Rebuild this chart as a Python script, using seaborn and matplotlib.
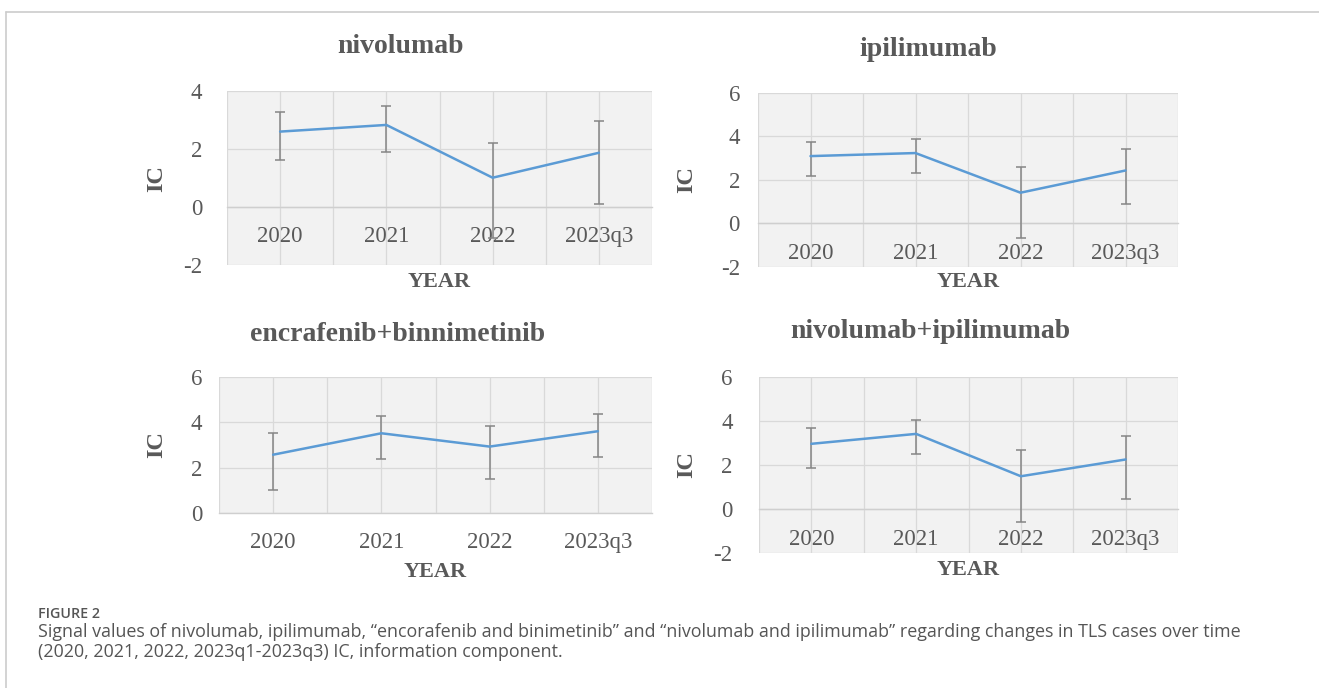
import numpy as np
import pandas as pd
import matplotlib
matplotlib.use("Agg")
import matplotlib.pyplot as plt
from matplotlib.lines import Line2D
from matplotlib.ticker import MultipleLocator, FixedLocator
import seaborn as sns

# ---------------- data ----------------
years = ["2020", "2021", "2022", "2023q3"]

titles = ["nivolumab", "ipilimumab", "encrafenib+binnimetinib", "nivolumab+ipilimumab"]

nivo_ic = [2.60, 2.83, 1.01, 1.87]
nivo_lo = [1.61, 1.91, -1.07, 0.10]
nivo_hi = [3.27, 3.48, 2.20, 2.97]

ipi_ic = [3.09, 3.23, 1.41, 2.43]
ipi_lo = [2.16, 2.31, -0.66, 0.87]
ipi_hi = [3.72, 3.87, 2.61, 3.42]

encbin_ic = [2.57, 3.52, 2.93, 3.61]
encbin_lo = [1.00, 2.37, 1.49, 2.47]
encbin_hi = [3.55, 4.27, 3.83, 4.36]

nivoipi_ic = [2.96, 3.41, 1.49, 2.25]
nivoipi_lo = [1.87, 2.48, -0.59, 0.48]
nivoipi_hi = [3.67, 4.06, 2.70, 3.32]

ylims = [(-2, 4), (-2, 6), (0, 6), (-2, 6)]

series = [
    (nivo_ic, nivo_lo, nivo_hi),
    (ipi_ic, ipi_lo, ipi_hi),
    (encbin_ic, encbin_lo, encbin_hi),
    (nivoipi_ic, nivoipi_lo, nivoipi_hi),
]

caption_head = "FIGURE 2"
caption_l1a = ("Signal values of nivolumab, ipilimumab, \u201cencorafenib and binimetinib\u201d and "
               "\u201cnivolumab and ipilimumab\u201d ")
caption_l1b = "regarding changes in TLS cases over time"
caption_l2 = "(2020, 2021, 2022, 2023q1-2023q3) IC, information component."

# ---------------- layout ----------------
W, H = 1319, 688
sns.set_theme(style="white")
plt.rcParams["font.family"] = ["Liberation Serif", "DejaVu Serif"]
plt.rcParams["axes.unicode_minus"] = False

fig = plt.figure(figsize=(W / 100, H / 100), dpi=100)
fig.patch.set_facecolor("white")

# axes boxes in pixels: (left, top, right, bottom)
boxes = [
    (227, 91, 652, 265),
    (758, 92.7, 1178, 267),
    (219, 377.3, 652, 512.7),
    (759, 376.7, 1178, 553.3),
]
title_pos = [(400, 55), (928, 58), (398, 343), (930, 340)]
ic_x = [167, 697, 167, 697]
year_y = [282, 282, 572, 570]
ytick_pad = [18, 13, 12, 19]

TXT = "#595959"
BLUE = "#5B9BD5"
ERR = "#858585"
GRID = "#d9d9d9"
BG = "#f2f2f2"

for i, (box, title, (ic, lo, hi), yl) in enumerate(zip(boxes, titles, series, ylims)):
    l, t, r, b = box
    ax = fig.add_axes([l / W, 1 - b / H, (r - l) / W, (b - t) / H])
    ax.set_facecolor(BG)
    df = pd.DataFrame({"year": years, "ic": ic, "lo": lo, "hi": hi})
    df["pos"] = np.arange(len(df))
    ic_a = df["ic"].to_numpy()
    ax.errorbar(df["pos"], ic_a, yerr=[ic_a - df["lo"].to_numpy(), df["hi"].to_numpy() - ic_a],
                fmt="none", ecolor=ERR, elinewidth=1.1, capsize=3.5, capthick=1.1, zorder=3)
    sns.lineplot(data=df, x="pos", y="ic", ax=ax, color=BLUE, linewidth=1.8, zorder=4,
                 legend=False)
    ax.set_xlim(-0.5, len(years) - 0.5)
    ax.set_ylim(*yl)
    ax.yaxis.set_major_locator(MultipleLocator(2))
    ax.set_xticks(df["pos"])
    ax.set_xticklabels(years)
    ax.xaxis.set_minor_locator(FixedLocator(np.arange(-0.5, len(years), 1.0)))
    ax.grid(True, which="both", axis="x", color=GRID, linewidth=0.9)
    ax.grid(True, which="major", axis="y", color=GRID, linewidth=0.9)
    ax.set_axisbelow(True)
    for s in ["top", "right", "left"]:
        ax.spines[s].set_visible(False)
    ax.spines["bottom"].set_position(("data", 0))
    ax.spines["bottom"].set_color("#cfcfcf")
    ax.spines["bottom"].set_linewidth(1.0)
    ax.tick_params(axis="x", which="both", length=0, pad=14, labelsize=16.5, labelcolor=TXT)
    ax.tick_params(axis="y", length=0, pad=ytick_pad[i], labelsize=16.5, labelcolor=TXT)

    ax.set_ylabel("IC", fontsize=17.5, fontweight="bold", color=TXT)
    ax.yaxis.set_label_coords((ic_x[i] - l) / (r - l), 0.5)
    ax.set_xlabel("YEAR", fontsize=16, fontweight="bold", color=TXT)
    ax.xaxis.label.set_va("center")
    ax.xaxis.set_label_coords(0.5, -(year_y[i] - b) / (b - t))

    tx, ty = title_pos[i]
    ax.set_title(title, fontsize=20, fontweight="bold", color=TXT,
                 x=(tx - l) / (r - l), y=1 + (t - ty) / (b - t), va="center")

# ---------------- frame and caption ----------------
fig.add_artist(Line2D([6 / W, 1], [1 - 12 / H, 1 - 12 / H], color="#cccccc", linewidth=1.2))
fig.add_artist(Line2D([6 / W, 6 / W], [0, 1 - 12 / H], color="#cccccc", linewidth=1.2))

cap_font = ["Open Sans", "DejaVu Sans"]
CAP = "#555555"
fig.canvas.draw()
renderer = fig.canvas.get_renderer()

# fit caption size so "regarding" starts where it does in the reference
probe = fig.text(0, 0, caption_l1a, fontsize=10, family=cap_font)
pw = probe.get_window_extent(renderer).width
probe.remove()
cap_size = 10 * (907 - 38) / pw

probe = fig.text(0, 0, caption_head, fontsize=10, family=cap_font, fontweight="semibold")
hw = probe.get_window_extent(renderer).width
probe.remove()
head_size = 10 * 62 / hw

fig.text(38 / W, 1 - 618 / H, caption_head, fontsize=head_size, color=CAP,
         family=cap_font, fontweight="semibold", va="baseline")
fig.text(38 / W, 1 - 637 / H, caption_l1a + caption_l1b,
         fontsize=cap_size, color=CAP, family=cap_font, va="baseline")
fig.text(38 / W, 1 - 657 / H, caption_l2,
         fontsize=cap_size, color=CAP, family=cap_font, va="baseline")

fig.savefig("out.png", dpi=100)
